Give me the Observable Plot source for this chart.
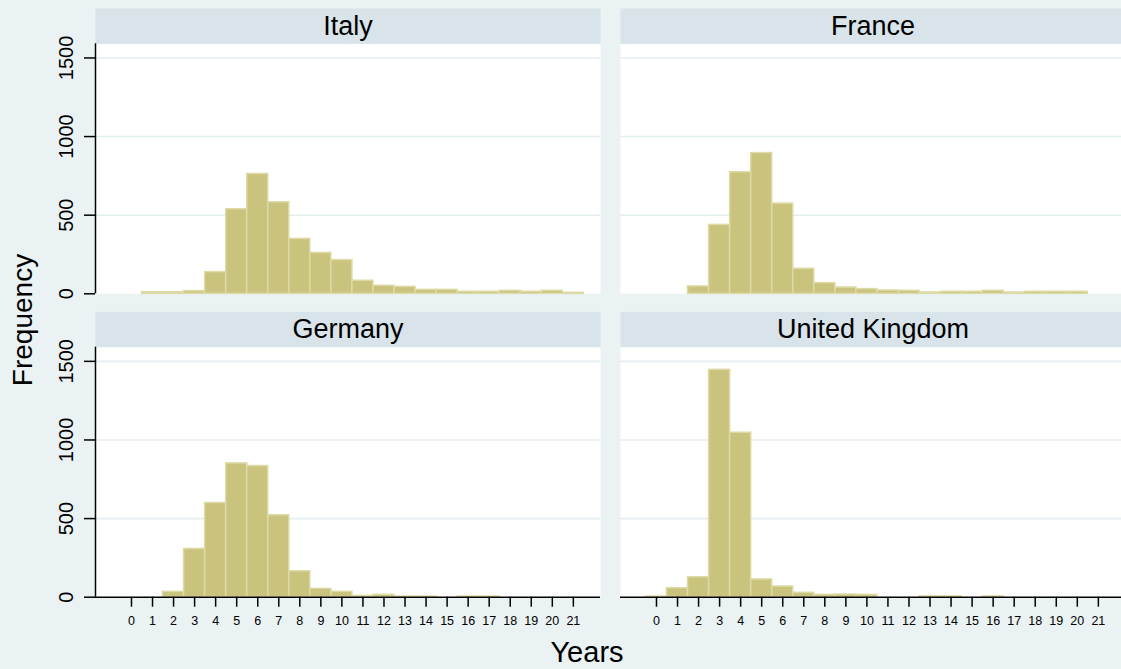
<!DOCTYPE html>
<html><head><meta charset="utf-8">
<script src="https://cdn.jsdelivr.net/npm/d3@7"></script>
<script src="https://cdn.jsdelivr.net/npm/@observablehq/plot@0.6"></script>
<style>
html,body{margin:0;padding:0;background:#EAF2F3;overflow:hidden}
</style></head><body><div id="chart"></div>
<script>
// Panels
const countries = ["Italy", "France", "Germany", "United Kingdom"];
const panelCol = ["left", "right", "left", "right"];
const panelRow = ["top", "top", "bottom", "bottom"];
// Bins (years)
const years = [0,1,2,3,4,5,6,7,8,9,10,11,12,13,14,15,16,17,18,19,20,21];
// Frequencies per bin
const italy   = [0,10,10,17,138,538,762,582,349,260,214,83,51,44,25,25,13,13,19,13,19,6];
const france  = [0,0,47,438,773,895,574,159,68,40,30,21,19,8,13,13,19,8,13,13,13,0];
const germany = [0,0,34,307,599,851,834,521,165,53,34,8,15,4,4,0,4,4,0,0,0,0];
const uk      = [4,57,127,1446,1046,113,68,28,15,17,15,0,0,5,5,0,5,0,0,0,0,0];
const yTicks = [0, 500, 1000, 1500];

const series = [italy, france, germany, uk];
const rows = [];
countries.forEach((c, i) => {
  series[i].forEach((v, j) => {
    if (v > 0) rows.push({country: c, col: panelCol[i], row: panelRow[i], year: years[j], count: v});
  });
});
const strips = countries.map((c, i) => ({country: c, col: panelCol[i], row: panelRow[i]}));
const leftPanels = strips.filter(d => d.col === "left");
const bottomPanels = strips.filter(d => d.row === "bottom");

const BG = "#EAF2F3", STRIP = "#D8E4E9";
const panelH = 250;
const xDomain = [-1.71, 22.29];

const plot = Plot.plot({
  width: 1121, height: 669,
  marginLeft: 95, marginRight: -4, marginTop: 43.3, marginBottom: 72.3,
  style: {background: BG, fontFamily: "'Liberation Sans', Arial, sans-serif", color: "#000"},
  x: {domain: xDomain},
  y: {domain: [0, 1590]},
  fx: {domain: ["left", "right"], paddingInner: 0.0381, paddingOuter: 0, round: false, axis: null, label: null},
  fy: {domain: ["top", "bottom"], paddingInner: 0.176, paddingOuter: 0, round: false, axis: null, label: null},
  marks: [
    Plot.frame({fill: "white", stroke: null}),
    Plot.frame({fill: STRIP, stroke: null, insetTop: -35.3, insetBottom: panelH}),
    Plot.text(strips, {fx: "col", fy: "row", text: "country", frameAnchor: "top", lineAnchor: "middle", dy: -17.6, fontSize: 27, fill: "#000"}),
    Plot.ruleY(yTicks.filter(d => d > 0), {stroke: "#E4EDF0", strokeWidth: 1.6}),
    Plot.rectY(rows, {x1: d => d.year - 0.5, x2: d => d.year + 0.5, y: "count", fx: "col", fy: "row",
      fill: "#C9C37E", stroke: "#DEDAA6", strokeWidth: 1.5}),
    Plot.axisY({ticks: yTicks, tickSize: 11, tickRotate: -90, fontSize: 20, tickPadding: 12, label: null,
      stroke: "#000", strokeWidth: 1.5, strokeOpacity: 1, tickFormat: d => String(d)}),
    Plot.axisX({ticks: years, tickSize: 10, fontSize: 12.5, tickPadding: 9, label: null,
      stroke: "#000", strokeWidth: 1.5, strokeOpacity: 1, tickFormat: d => String(d)}),
    Plot.ruleX(leftPanels, {x: () => xDomain[0], fx: "col", fy: "row", stroke: "#000", strokeWidth: 1.5}),
    Plot.ruleY(bottomPanels, {y: () => 0, fx: "col", fy: "row", stroke: "#000", strokeWidth: 1.5})
  ]
});

const svg = d3.select(plot);
svg.append("text").text("Frequency")
  .attr("transform", "translate(22.5,320) rotate(-90)")
  .attr("text-anchor", "middle").attr("dominant-baseline", "central")
  .attr("font-size", 28).attr("fill", "#000");
svg.append("text").text("Years")
  .attr("x", 587).attr("y", 652)
  .attr("text-anchor", "middle").attr("dominant-baseline", "central")
  .attr("font-size", 29).attr("fill", "#000");

document.getElementById("chart").appendChild(plot);
</script></body></html>
